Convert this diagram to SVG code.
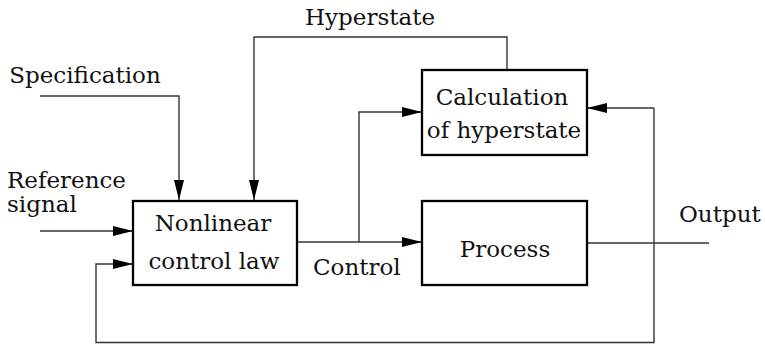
<svg xmlns="http://www.w3.org/2000/svg" width="765" height="345" viewBox="0 0 765 345">
<defs>
<style>
text{font-family:"DejaVu Serif","Liberation Serif",serif;font-size:23px;fill:#111}
.box{fill:#fff;stroke:#000;stroke-width:2.3}
.wire{fill:none;stroke:#333;stroke-width:1.4}
.m{text-anchor:middle}
</style>
<marker id="ah" viewBox="0 0 20 10" refX="20" refY="5" markerWidth="20" markerHeight="10" markerUnits="userSpaceOnUse" orient="auto">
<path d="M0,0 L20,5 L0,10 Z" fill="#000"/>
</marker>
</defs>
<rect width="765" height="345" fill="#fff"/>
<g id="connectors">
<path class="wire" d="M507,70 V37 H254 V200" marker-end="url(#ah)"/>
<path class="wire" d="M40,96 H179 V200" marker-end="url(#ah)"/>
<path class="wire" d="M40,231 H133" marker-end="url(#ah)"/>
<path class="wire" d="M297,242 H422" marker-end="url(#ah)"/>
<path class="wire" d="M359,242 V112 H422" marker-end="url(#ah)"/>
<path class="wire" d="M587,243 H709"/>
<path class="wire" d="M654,108 H587" marker-end="url(#ah)"/>
<path class="wire" d="M654,108 V342.5 H96 V264 H133" marker-end="url(#ah)"/>
</g>
<g id="labels">
<text class="m" x="370" y="25">Hyperstate</text>
<text class="m" x="85" y="83">Specification</text>
<text x="7" y="188">Reference</text>
<text x="7" y="212">signal</text>
<text x="313" y="275">Control</text>
<text x="679" y="222">Output</text>
</g>
<g id="nonlinear">
<rect class="box" x="133" y="201" width="164" height="84"/>
<text class="m" x="213" y="231">Nonlinear</text>
<text class="m" x="214" y="269">control law</text>
</g>
<g id="calculation">
<rect class="box" x="422" y="70" width="165" height="85"/>
<text class="m" x="502" y="105">Calculation</text>
<text class="m" x="504" y="138">of hyperstate</text>
</g>
<g id="process">
<rect class="box" x="422" y="201" width="165" height="84"/>
<text class="m" x="505" y="257">Process</text>
</g>
</svg>
